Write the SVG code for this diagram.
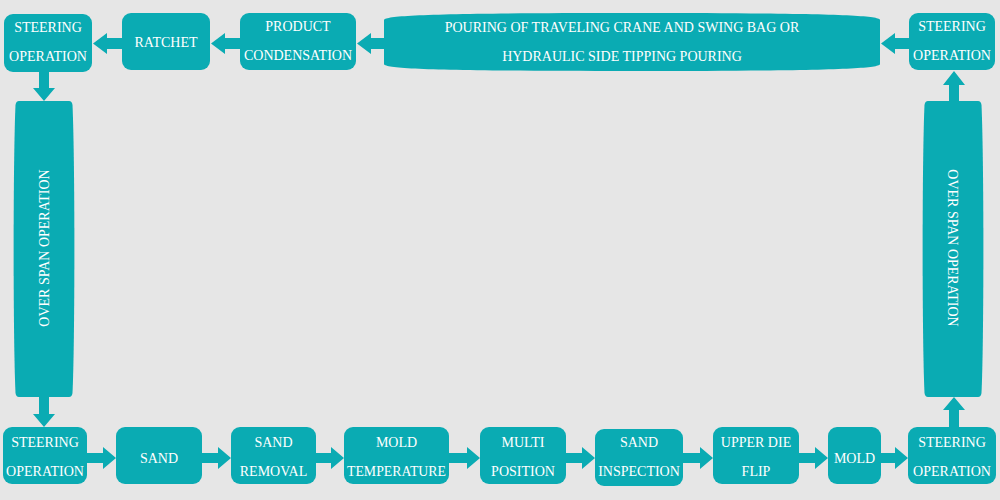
<svg xmlns="http://www.w3.org/2000/svg" width="1000" height="500" viewBox="0 0 1000 500">
<style>
.n{fill:#0aabb3}
.c{fill:#0aabb3}
text{font-family:"Liberation Serif","Times New Roman",serif;font-size:14px;fill:#ffffff;text-anchor:middle}
</style>
<rect x="0" y="0" width="1000" height="500" fill="#e6e6e6"/>
<g id="connectors">
<polygon class="c" points="909,38 895,38 895,33 881,43.5 895,54 895,49 909,49"/>
<polygon class="c" points="385,38 371,38 371,33 357,43.5 371,54 371,49 385,49"/>
<polygon class="c" points="241,38 225,38 225,33 211,43.5 225,54 225,49 241,49"/>
<polygon class="c" points="123,38 107,38 107,33 93,43.5 107,54 107,49 123,49"/>
<polygon class="c" points="39,71 39,88 33,88 44,101 55,88 49,88 49,71"/>
<polygon class="c" points="39,396 39,414 33,414 44,427 55,414 49,414 49,396"/>
<polygon class="c" points="87,453 103,453 103,447 116,458 103,469 103,463 87,463"/>
<polygon class="c" points="201,453 218,453 218,447 231,458 218,469 218,463 201,463"/>
<polygon class="c" points="315,453 331,453 331,447 344,458 331,469 331,463 315,463"/>
<polygon class="c" points="448,453 467,453 467,447 480,458 467,469 467,463 448,463"/>
<polygon class="c" points="565,453 582,453 582,447 595,458 582,469 582,463 565,463"/>
<polygon class="c" points="682,453 700,453 700,447 713,458 700,469 700,463 682,463"/>
<polygon class="c" points="798,453 815,453 815,447 828,458 815,469 815,463 798,463"/>
<polygon class="c" points="880,453 895,453 895,447 908,458 895,469 895,463 880,463"/>
<polygon class="c" points="949,428 949,410 943,410 954,397 965,410 959,410 959,428"/>
<polygon class="c" points="949,102 949,85 943,85 954,71 965,85 959,85 959,102"/>
</g>
<g id="n-steer-tl"><rect class="n" x="4" y="14" width="88" height="58" rx="9"/><text x="48" y="32">STEERING</text><text x="48" y="61">OPERATION</text></g>
<g id="n-ratchet"><rect class="n" x="122" y="13" width="88" height="57" rx="9"/><text x="166" y="47">RATCHET</text></g>
<g id="n-product"><rect class="n" x="240" y="13" width="116" height="57" rx="9"/><text x="298" y="31">PRODUCT</text><text x="298" y="60">CONDENSATION</text></g>
<g id="n-pouring"><path class="n" d="M384,20 C384,15 440,13 632,13 C824,13 880,15 880,20 L880,64 C880,69 824,71 632,71 C440,71 384,69 384,64 Z"/><text x="622" y="32">POURING OF TRAVELING CRANE AND SWING BAG OR</text><text x="622" y="61">HYDRAULIC SIDE TIPPING POURING</text></g>
<g id="n-steer-tr"><rect class="n" x="909" y="13" width="86" height="57" rx="9"/><text x="952" y="31">STEERING</text><text x="952" y="60">OPERATION</text></g>
<g id="n-span-l"><path class="n" d="M19,101 L69,101 Q72,101 72.5,105 C75,160 75,340 72.5,393 Q72,397 69,397 L19,397 Q16,397 15.5,393 C13,340 13,160 15.5,105 Q16,101 19,101 Z"/><text transform="translate(44,248) rotate(-90)" y="5">OVER SPAN OPERATION</text></g>
<g id="n-span-r"><path class="n" d="M928,101 L978,101 Q981,101 981.5,105 C984,160 984,340 981.5,393 Q981,397 978,397 L928,397 Q925,397 924.5,393 C922,340 922,160 924.5,105 Q925,101 928,101 Z"/><text transform="translate(953,248) rotate(90)" y="5">OVER SPAN OPERATION</text></g>
<g id="n-steer-bl"><rect class="n" x="3" y="427" width="84" height="57" rx="9"/><text x="45" y="447">STEERING</text><text x="45" y="476">OPERATION</text></g>
<g id="n-sand"><rect class="n" x="116" y="427" width="86" height="57" rx="9"/><text x="159" y="463">SAND</text></g>
<g id="n-sand-removal"><rect class="n" x="231" y="427" width="85" height="57" rx="9"/><text x="273.5" y="447">SAND</text><text x="273.5" y="476">REMOVAL</text></g>
<g id="n-mold-temp"><rect class="n" x="344" y="427" width="105" height="57" rx="9"/><text x="396.5" y="447">MOLD</text><text x="396.5" y="476" textLength="99" lengthAdjust="spacingAndGlyphs">TEMPERATURE</text></g>
<g id="n-multi"><rect class="n" x="480" y="427" width="86" height="57" rx="9"/><text x="523" y="447">MULTI</text><text x="523" y="476">POSITION</text></g>
<g id="n-sand-insp"><rect class="n" x="595" y="429" width="88" height="57" rx="9"/><text x="639" y="447">SAND</text><text x="639" y="476">INSPECTION</text></g>
<g id="n-upper-die"><rect class="n" x="713" y="427" width="86" height="57" rx="9"/><text x="756" y="447">UPPER DIE</text><text x="756" y="476">FLIP</text></g>
<g id="n-mold"><rect class="n" x="828" y="427" width="53" height="57" rx="9"/><text x="854.5" y="463">MOLD</text></g>
<g id="n-steer-br"><rect class="n" x="908" y="427" width="88" height="57" rx="9"/><text x="952" y="447">STEERING</text><text x="952" y="476">OPERATION</text></g>
</svg>
